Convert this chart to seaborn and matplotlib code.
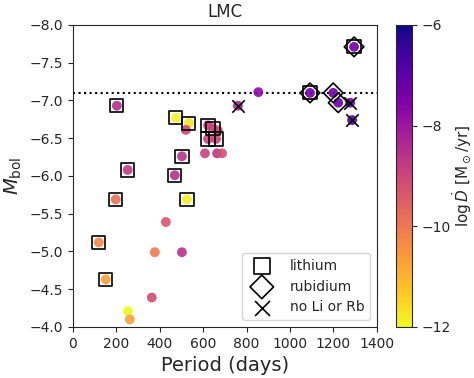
import numpy as np
import pandas as pd
import seaborn as sns
import matplotlib.pyplot as plt
from matplotlib.colors import Normalize
from matplotlib.cm import ScalarMappable

# все звёзды: период, Mbol, log Mdot
period = [202, 474, 534, 622, 645, 622, 659, 502, 252, 469, 197, 525, 119, 151,
          1092, 1295, 1199, 1222, 760, 1277, 1286,
          520, 668, 608, 664, 687, 428, 377, 502, 363, 253, 262, 854]
mbol = [-6.93, -6.77, -6.70, -6.67, -6.63, -6.49, -6.49, -6.26, -6.08, -6.01, -5.69, -5.69, -5.12, -4.63,
        -7.10, -7.71, -7.10, -6.97, -6.93, -6.97, -6.74,
        -6.61, -6.60, -6.30, -6.30, -6.30, -5.39, -4.99, -4.99, -4.39, -4.21, -4.10, -7.11]
mdot = [-8.5, -11.9, -11.7, -8.9, -8.9, -8.9, -9.0, -8.6, -8.7, -8.5, -9.8, -11.8, -10.3, -10.6,
        -7.3, -7.3, -7.3, -7.2, -8.3, -7.4, -6.9,
        -9.0, -9.0, -8.9, -8.6, -9.2, -9.3, -10.0, -8.6, -9.1, -12.0, -10.7, -7.7]

# отметки: литий, рубидий, ни того ни другого
li_p = [202, 474, 534, 622, 645, 622, 659, 502, 252, 469, 197, 525, 119, 151, 1092, 1295]
li_m = [-6.93, -6.77, -6.70, -6.67, -6.63, -6.49, -6.49, -6.26, -6.08, -6.01, -5.69, -5.69, -5.12, -4.63, -7.10, -7.71]
rb_p = [1092, 1295, 1199, 1222]
rb_m = [-7.10, -7.71, -7.10, -6.97]
no_p = [760, 1277, 1286]
no_m = [-6.93, -6.97, -6.74]

df = pd.DataFrame({'period': period, 'mbol': mbol, 'mdot': mdot})

sns.set_style('ticks')
plt.rcParams['font.family'] = ['DejaVu Sans']

fig = plt.figure(figsize=(4.74, 3.78), dpi=100)
ax = fig.add_axes([0.154, 0.135, 0.641, 0.799])
cax = fig.add_axes([0.835, 0.135, 0.034, 0.799])

ax.axhline(-7.1, color='k', ls=':', lw=1.5, zorder=1)
sns.scatterplot(data=df, x='period', y='mbol', hue='mdot', palette='plasma_r',
                hue_norm=(-12, -6), s=50, linewidth=0, alpha=0.9, legend=False, ax=ax, zorder=2)
ax.scatter(li_p, li_m, marker='s', s=90, facecolors='none', edgecolors='k', lw=1.2, label='lithium', zorder=3)
ax.scatter(rb_p, rb_m, marker='D', s=100, facecolors='none', edgecolors='k', lw=1.2, label='rubidium', zorder=3)
ax.scatter(no_p, no_m, marker='x', s=80, c='k', lw=1.2, label='no Li or Rb', zorder=3)

ax.set_xlim(0, 1400)
ax.set_ylim(-4, -8)
ax.set_xticks(np.arange(0, 1401, 200))
ax.set_yticks(np.arange(-8, -3.9, 0.5))
ax.set_xlabel('Period (days)', fontsize=14)
ax.set_ylabel(r'$M_{\rm bol}$', fontsize=14)
ax.set_title('LMC', fontsize=12)
ax.legend(loc='lower right', fontsize=10, handletextpad=1.0, markerscale=1.2)

sm = ScalarMappable(norm=Normalize(-12, -6), cmap='plasma_r')
cb = fig.colorbar(sm, cax=cax, ticks=[-12, -10, -8, -6])
cb.set_label(r'$\log\dot{D}$ [M$_\odot$/yr]', fontsize=11, labelpad=0)

fig.savefig('out.png', dpi=100)
